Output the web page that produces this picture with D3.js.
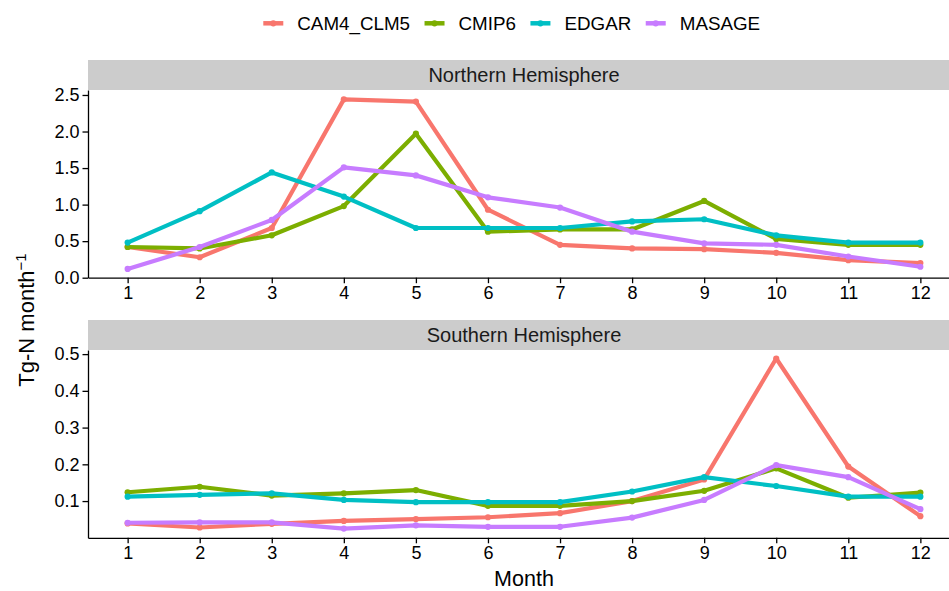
<!DOCTYPE html>
<html>
<head>
<meta charset="utf-8">
<script src="https://cdn.jsdelivr.net/npm/d3@7"></script>
<style>
  html, body { margin: 0; padding: 0; background: #fff; }
  svg { display: block; font-family: "Liberation Sans", Arial, Helvetica, sans-serif; }
</style>
</head>
<body>
<svg id="chart" width="949" height="591"></svg>
<script>
// ---- data ----
const months = [1, 2, 3, 4, 5, 6, 7, 8, 9, 10, 11, 12];
const seriesNames = ["CAM4_CLM5", "CMIP6", "EDGAR", "MASAGE"];
const seriesColors = ["#F8766D", "#7CAE00", "#00BFC4", "#C77CFF"];
const panelTitles = ["Northern Hemisphere", "Southern Hemisphere"];

// Northern Hemisphere (Tg-N month^-1)
const nhCAM4 = [0.42, 0.28, 0.68, 2.44, 2.41, 0.93, 0.45, 0.40, 0.39, 0.34, 0.24, 0.20];
const nhCMIP6 = [0.42, 0.40, 0.58, 0.98, 1.97, 0.63, 0.66, 0.66, 1.05, 0.53, 0.45, 0.45];
const nhEDGAR = [0.48, 0.91, 1.44, 1.11, 0.68, 0.68, 0.68, 0.77, 0.80, 0.58, 0.48, 0.48];
const nhMASAGE = [0.12, 0.42, 0.79, 1.51, 1.40, 1.10, 0.96, 0.63, 0.47, 0.45, 0.29, 0.15];

// Southern Hemisphere (Tg-N month^-1)
const shCAM4 = [0.039, 0.028, 0.038, 0.046, 0.051, 0.056, 0.067, 0.100, 0.159, 0.488, 0.194, 0.059];
const shCMIP6 = [0.124, 0.139, 0.115, 0.121, 0.130, 0.087, 0.087, 0.100, 0.128, 0.189, 0.109, 0.123];
const shEDGAR = [0.112, 0.117, 0.121, 0.103, 0.097, 0.097, 0.097, 0.126, 0.165, 0.141, 0.112, 0.112];
const shMASAGE = [0.041, 0.042, 0.042, 0.025, 0.034, 0.030, 0.030, 0.055, 0.103, 0.198, 0.165, 0.078];

const nhTicks = [0.0, 0.5, 1.0, 1.5, 2.0, 2.5];
const shTicks = [0.1, 0.2, 0.3, 0.4, 0.5];

// ---- layout ----
const svg = d3.select("#chart");
const panelLeft = 88, panelRight = 960;
const panels = [
  { title: panelTitles[0], stripTop: 60, top: 90, bottom: 277.7, domain: [0, 2.5681], ticks: nhTicks, fmt: d3.format(".1f"),
    data: [nhCAM4, nhCMIP6, nhEDGAR, nhMASAGE] },
  { title: panelTitles[1], stripTop: 320, top: 350, bottom: 537.8, domain: [0, 0.5112], ticks: shTicks, fmt: d3.format(".1f"),
    data: [shCAM4, shCMIP6, shEDGAR, shMASAGE] }
];

const x = d3.scaleLinear().domain([0.45, 12.55]).range([panelLeft, panelRight]);
const tickFont = 18;

panels.forEach(p => {
  const y = d3.scaleLinear().domain(p.domain).range([p.bottom, p.top]);
  const g = svg.append("g");

  // strip
  g.append("rect")
    .attr("x", panelLeft).attr("y", p.stripTop)
    .attr("width", panelRight - panelLeft).attr("height", p.top - p.stripTop)
    .attr("fill", "#cccccc");
  g.append("text")
    .attr("x", (panelLeft + panelRight) / 2)
    .attr("y", (p.stripTop + p.top) / 2 + 7)
    .attr("text-anchor", "middle")
    .attr("font-size", 20)
    .attr("fill", "#1a1a1a")
    .text(p.title);

  // lines
  const line = d3.line().x((d, i) => x(months[i])).y(d => y(d));
  p.data.forEach((vals, si) => {
    g.append("path")
      .datum(vals)
      .attr("d", line)
      .attr("fill", "none")
      .attr("stroke", seriesColors[si])
      .attr("stroke-width", 4.2)
      .attr("stroke-linejoin", "round")
      .attr("stroke-linecap", "butt");
    g.selectAll(null)
      .data(vals)
      .enter().append("circle")
      .attr("cx", (d, i) => x(months[i]))
      .attr("cy", d => y(d))
      .attr("r", 3.1)
      .attr("fill", seriesColors[si]);
  });

  // y axis
  const ya = g.append("g")
    .attr("transform", `translate(${panelLeft},0)`)
    .call(d3.axisLeft(y).tickValues(p.ticks).tickFormat(p.fmt).tickSize(5.5).tickSizeOuter(0).tickPadding(3));
  // x axis
  const xa = g.append("g")
    .attr("transform", `translate(0,${p.bottom})`)
    .call(d3.axisBottom(x).tickValues(months).tickFormat(d3.format("d")).tickSize(5.5).tickSizeOuter(0).tickPadding(3));

  [ya, xa].forEach(a => {
    a.selectAll(".domain").attr("stroke", "#000").attr("stroke-width", 1.3);
    a.selectAll(".tick line").attr("stroke", "#000").attr("stroke-width", 1.3);
    a.selectAll(".tick text")
      .attr("font-size", tickFont)
      .attr("fill", "#000")
      .attr("font-family", '"Liberation Sans", Arial, sans-serif');
  });
});

// axis titles
svg.append("text")
  .attr("x", (panelLeft + panelRight) / 2)
  .attr("y", 586)
  .attr("text-anchor", "middle")
  .attr("font-size", 21.5)
  .attr("fill", "#000")
  .text("Month");

const yt = svg.append("text")
  .attr("transform", "translate(33.5,320) rotate(-90)")
  .attr("text-anchor", "middle")
  .attr("font-size", 22)
  .attr("fill", "#000");
yt.append("tspan").text("Tg-N month");
yt.append("tspan").attr("dy", -8).attr("font-size", 15).text("\u22121");

// legend
const lg = svg.append("g");
const keyLen = 20, keyGap = 14, itemGap = 14.5;
let cx = 0;
seriesNames.forEach((name, i) => {
  const it = lg.append("g").attr("transform", `translate(${cx},0)`);
  it.append("line")
    .attr("x1", 0).attr("x2", keyLen).attr("y1", 23.3).attr("y2", 23.3)
    .attr("stroke", seriesColors[i]).attr("stroke-width", 4.5);
  it.append("circle").attr("cx", keyLen / 2).attr("cy", 23.3).attr("r", 3.1).attr("fill", seriesColors[i]);
  const t = it.append("text")
    .attr("x", keyLen + keyGap).attr("y", 30)
    .attr("font-size", 18.8).attr("fill", "#000")
    .text(name);
  const w = t.node().getComputedTextLength();
  cx += keyLen + keyGap + w + itemGap;
});
const totalW = cx - itemGap;
lg.attr("transform", `translate(${511.7 - totalW / 2},0)`);
</script>
</body>
</html>
